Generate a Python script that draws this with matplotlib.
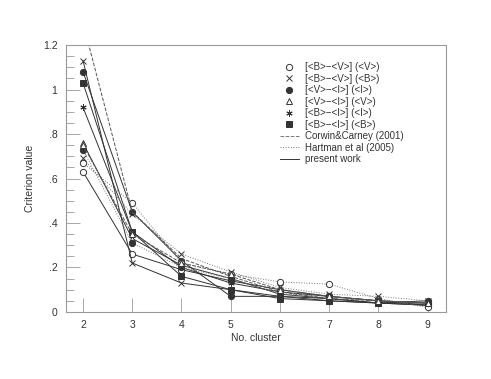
import matplotlib
matplotlib.use("Agg")
import matplotlib.pyplot as plt
from matplotlib.lines import Line2D

clusters = [2, 3, 4, 5, 6, 7, 8, 9]

# present work (solid)
pw_bv_v = [0.63, 0.26, 0.19, 0.14, 0.10, 0.07, 0.05, 0.03]
pw_bv_b = [1.13, 0.22, 0.13, 0.10, 0.07, 0.06, 0.04, 0.03]
pw_vi_i = [1.08, 0.45, 0.23, 0.07, 0.07, 0.05, 0.04, 0.05]
pw_vi_v = [0.76, 0.33, 0.21, 0.15, 0.08, 0.06, 0.04, 0.04]
pw_bi_i = [0.92, 0.36, 0.20, 0.13, 0.09, 0.07, 0.05, 0.04]
pw_bi_b = [1.03, 0.36, 0.16, 0.10, 0.06, 0.05, 0.04, 0.03]

# Hartman et al (2005) (dotted)
ha_bv_v = [0.67, 0.49, 0.22, 0.17, 0.135, 0.125, 0.06, 0.02]
ha_bv_b = [0.69, 0.44, 0.26, 0.18, 0.11, 0.08, 0.07, 0.05]
ha_vi_i = [0.73, 0.31, 0.20, 0.15, 0.08, 0.07, 0.05, 0.04]

# Corwin & Carney (2001) (dashed)
cc_1 = [1.30, 0.45, 0.24, 0.16, 0.09, 0.06, 0.05, 0.04]
cc_vi_v = [0.75, 0.35, 0.22, 0.17, 0.10, 0.07, 0.05, 0.04]

legend_labels = ["[<B>\u2212<V>] (<V>)", "[<B>\u2212<V>] (<B>)", "[<V>\u2212<I>] (<I>)",
                 "[<V>\u2212<I>] (<V>)", "[<B>\u2212<I>] (<I>)", "[<B>\u2212<I>] (<B>)",
                 "Corwin&Carney (2001)", "Hartman et al (2005)", "present work"]

plt.rcParams['font.family'] = ['Liberation Sans', 'DejaVu Sans']
fig = plt.figure(figsize=(4.91, 3.79), dpi=100)
ax = fig.add_axes([0.134, 0.177, 0.774, 0.704])

lc = '#333333'
mk = dict(markersize=4.5, markeredgewidth=0.7)
def draw(y, ls, marker, fill, lw=0.7, color=lc):
    ax.plot(clusters, y, linestyle=ls, color=color, lw=lw, marker=marker,
            markerfacecolor=(lc if fill else 'white'), markeredgecolor=lc, clip_on=True, **mk)

draw(pw_bv_v, '-', 'o', False)
draw(pw_bv_b, '-', 'x', False)
draw(pw_vi_i, '-', 'o', True)
draw(pw_vi_v, '-', '^', False)
draw(pw_bi_i, '-', (6, 2, 0), False)
draw(pw_bi_b, '-', 's', True)
draw(ha_bv_v, ':', 'o', False, color='#777777')
draw(ha_bv_b, ':', 'x', False, color='#777777')
draw(ha_vi_i, ':', 'o', True, color='#777777')
draw(cc_1, '--', None, False, color='#555555')
draw(cc_vi_v, '--', '^', False, color='#555555')

ax.set_xlim(1.65, 9.37)
ax.set_ylim(0, 1.2)
ax.set_xticks(clusters)
ax.set_yticks([0, 0.2, 0.4, 0.6, 0.8, 1.0, 1.2])
ax.set_yticklabels(["0", ".2", ".4", ".6", ".8", "1", "1.2"])
ax.set_yticks([i * 0.05 for i in range(25)], minor=True)
ax.tick_params(axis='both', which='major', direction='in', length=10, width=0.6,
               color='#999999', labelsize=7.5, labelcolor='#333333', pad=6)
ax.tick_params(axis='y', which='minor', direction='in', length=6, width=0.6, color='#999999')
for s in ax.spines.values():
    s.set_color('#999999')
    s.set_linewidth(0.8)
ax.set_xlabel("No. cluster", fontsize=7.5, color='#333333', labelpad=2)
ax.set_ylabel("Criterion value", fontsize=7.5, color='#333333', labelpad=6)

handles = [
    Line2D([], [], ls='none', marker='o', mfc='white', mec=lc, **mk),
    Line2D([], [], ls='none', marker='x', mec=lc, **mk),
    Line2D([], [], ls='none', marker='o', mfc=lc, mec=lc, **mk),
    Line2D([], [], ls='none', marker='^', mfc='white', mec=lc, **mk),
    Line2D([], [], ls='none', marker=(6, 2, 0), mec=lc, **mk),
    Line2D([], [], ls='none', marker='s', mfc=lc, mec=lc, **mk),
    Line2D([], [], ls='--', color='#777777', lw=0.7),
    Line2D([], [], ls=':', color='#777777', lw=0.7),
    Line2D([], [], ls='-', color=lc, lw=0.7),
]
leg = ax.legend(handles, legend_labels, loc='upper left', bbox_to_anchor=(0.55, 0.955),
                frameon=False, fontsize=7, handlelength=2.0, labelspacing=0.16,
                handletextpad=0.6, borderpad=0)
for t in leg.get_texts():
    t.set_color('#333333')

fig.savefig("out.png", dpi=100)
